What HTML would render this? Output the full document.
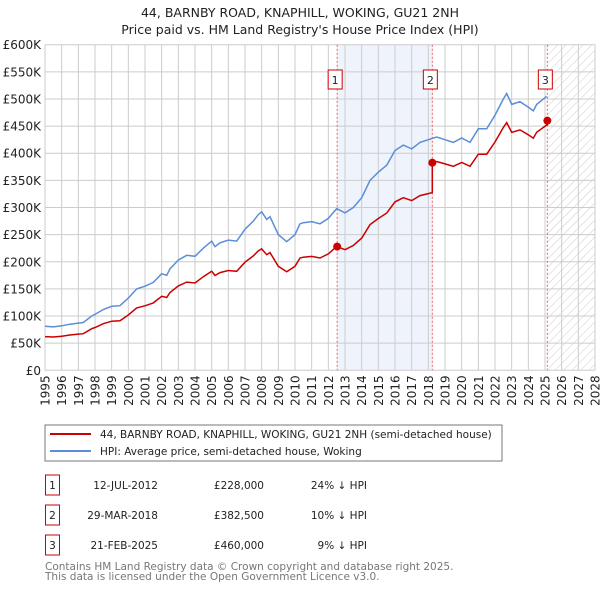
<!DOCTYPE html>
<html><head><meta charset="utf-8"><style>
body{margin:0;background:#fff;font-family:"Liberation Sans","DejaVu Sans",sans-serif;}
svg text{font-family:"DejaVu Sans","Liberation Sans",sans-serif;}
</style></head><body>
<svg id="c" width="600" height="590" xmlns="http://www.w3.org/2000/svg">
<defs><pattern id="hatch" width="6" height="6" patternUnits="userSpaceOnUse" patternTransform="rotate(45)"><line x1="0" y1="0" x2="0" y2="6" stroke="#ccc" stroke-width="1"/></pattern></defs>
<text x="300" y="17" text-anchor="middle" font-size="12.5" fill="#222">44, BARNBY ROAD, KNAPHILL, WOKING, GU21 2NH</text>
<text x="300" y="34" text-anchor="middle" font-size="12.5" fill="#222">Price paid vs. HM Land Registry's House Price Index (HPI)</text>
<g id="plot"></g>
<rect x="45" y="425" width="457" height="36" fill="#fff" stroke="#777"/>
<line x1="50" y1="434" x2="91" y2="434" stroke="#cc0000" stroke-width="2"/>
<text x="100" y="438" font-size="10.5" fill="#222">44, BARNBY ROAD, KNAPHILL, WOKING, GU21 2NH (semi-detached house)</text>
<line x1="50" y1="451" x2="91" y2="451" stroke="#5b8ed6" stroke-width="2"/>
<text x="100" y="455" font-size="10.5" fill="#222">HPI: Average price, semi-detached house, Woking</text>
<g id="tbl"></g>
<text x="45" y="570" font-size="10.5" fill="#777">Contains HM Land Registry data © Crown copyright and database right 2025.</text>
<text x="45" y="580" font-size="10.5" fill="#777">This data is licensed under the Open Government Licence v3.0.</text>
</svg>
<script>
const hpiYears=[1995,1995.5,1996,1996.5,1997,1997.3,1997.8,1998,1998.5,1999,1999.5,2000,2000.5,2001,2001.5,2002,2002.3,2002.5,2003,2003.5,2004,2004.5,2005,2005.2,2005.5,2006,2006.5,2007,2007.5,2007.8,2008,2008.3,2008.5,2009,2009.5,2010,2010.3,2010.5,2011,2011.5,2012,2012.5,2013,2013.5,2014,2014.5,2015,2015.5,2016,2016.5,2017,2017.5,2018,2018.5,2019,2019.5,2020,2020.5,2021,2021.5,2022,2022.5,2022.7,2023,2023.5,2024,2024.3,2024.5,2025.1];
const hpiValues=[81,80,82,85,87,88,100,103,112,118,119,133,150,155,162,178,175,187,203,212,210,225,238,228,235,240,238,260,275,287,292,278,283,250,237,250,270,272,274,270,280,298,290,300,318,350,365,378,405,415,408,420,425,430,425,420,428,420,445,445,470,500,510,490,495,485,478,490,505];
const saleLabels=["1","2","3"];
const saleDates=[2012.53,2018.24,2025.14];
const salePrices=[228,382.5,460];
const saleDateText=["12-JUL-2012","29-MAR-2018","21-FEB-2025"];
const salePriceText=["£228,000","£382,500","£460,000"];
const saleDiffText=["24% ↓ HPI","10% ↓ HPI","9% ↓ HPI"];
const yTicks=[0,50,100,150,200,250,300,350,400,450,500,550,600];
const yTickLabels=["£0","£50K","£100K","£150K","£200K","£250K","£300K","£350K","£400K","£450K","£500K","£550K","£600K"];
const xTicks=[1995,1996,1997,1998,1999,2000,2001,2002,2003,2004,2005,2006,2007,2008,2009,2010,2011,2012,2013,2014,2015,2016,2017,2018,2019,2020,2021,2022,2023,2024,2025,2026,2027,2028];

const NS="http://www.w3.org/2000/svg";
const X0=45,X1=595,Y0=370.3,Y1=44.7;
const xs=t=>X0+(t-1995)/(2028-1995)*(X1-X0);
const ys=v=>Y0-v/600*(Y0-Y1);
function mk(tag,attrs,parent){const e=document.createElementNS(NS,tag);for(const k in attrs)e.setAttribute(k,attrs[k]);parent.appendChild(e);return e;}
const g=document.getElementById('plot');
function hpiAt(t){for(let i=0;i<hpiYears.length-1;i++){if(t<=hpiYears[i+1]){const f=(t-hpiYears[i])/(hpiYears[i+1]-hpiYears[i]);return hpiValues[i]+f*(hpiValues[i+1]-hpiValues[i]);}}return hpiValues[hpiValues.length-1];}
// shaded region between sale 1 and 2
let r=mk('rect',{x:xs(saleDates[0]),y:Y1,width:xs(saleDates[1])-xs(saleDates[0]),height:Y0-Y1,fill:'#eef3fc'},g);


r=mk('rect',{x:xs(saleDates[2]),y:Y1,width:X1-xs(saleDates[2]),height:Y0-Y1,fill:'url(#hatch)'},g);


// grid
yTicks.forEach((v,i)=>{
 let l=mk('line',{x1:X0,x2:X1,y1:ys(v),y2:ys(v),stroke:'#ccc','stroke-width':1},g);
 
 
 let t=mk('text',{x:X0-4,y:ys(v)+4.5,'text-anchor':'end','font-size':'12',fill:'#222'},g);t.textContent=yTickLabels[i];
 
 
});
xTicks.forEach(yr=>{
 let l=mk('line',{x1:xs(yr),x2:xs(yr),y1:Y1,y2:Y0,stroke:'#ccc','stroke-width':1},g);
 
 
 let t=mk('text',{x:0,y:0,'text-anchor':'end','font-size':'12',fill:'#222',transform:`translate(${xs(yr)+4.5},${Y0+5}) rotate(-90)`},g);t.textContent=yr;
 
 
});
// sale vertical lines
saleDates.forEach(d=>{
 let l=mk('line',{x1:xs(d),x2:xs(d),y1:Y1,y2:Y0,stroke:'#f06060','stroke-width':1,'stroke-dasharray':'2,2'},g);
 
 
});
// HPI line
let p=hpiYears.map((t,i)=>(i?'L':'M')+xs(t).toFixed(1)+','+ys(hpiValues[i]).toFixed(1)).join('');
let hl=mk('path',{d:p,fill:'none',stroke:'#5b8ed6','stroke-width':1.5},g);


// price line: HPI indexed to each sale
function ratioAt(t){let k=0;for(let i=0;i<saleDates.length;i++){if(t>=saleDates[i])k=i;}return salePrices[k]/hpiAt(saleDates[k]);}
let pts=[];
const endT=saleDates[saleDates.length-1];
let times=hpiYears.filter(t=>t<endT);
saleDates.forEach(d=>times.push(d));
times.sort((a,b)=>a-b);
times.forEach(t=>{
 const idx=saleDates.indexOf(t);
 if(idx>0){pts.push([t,hpiAt(t)*salePrices[idx-1]/hpiAt(saleDates[idx-1])]);}
 pts.push([t,hpiAt(t)*ratioAt(t)]);
});
p=pts.map((q,i)=>(i?'L':'M')+xs(q[0]).toFixed(1)+','+ys(q[1]).toFixed(1)).join('');
let pl=mk('path',{d:p,fill:'none',stroke:'#cc0000','stroke-width':1.5},g);


saleDates.forEach((d,i)=>{
 let c=mk('circle',{cx:xs(d),cy:ys(salePrices[i]),r:4,fill:'#cc0000'},g);
 
 
 let b=mk('rect',{x:xs(d)-9,y:70,width:14,height:19,fill:'#fff',stroke:'#cc0000'},g);
 
 
 let t=mk('text',{x:xs(d)-2,y:84,'text-anchor':'middle','font-size':'11',fill:'#222'},g);t.textContent=saleLabels[i];
 
 
});
// table
const tb=document.getElementById('tbl');
saleLabels.forEach((s,i)=>{
 const yy=475+i*30;
 let b=mk('rect',{x:45.5,y:yy,width:14,height:20,fill:'#fff',stroke:'#cc0000'},tb);
 
 
 let t=mk('text',{x:52.5,y:yy+14,'text-anchor':'middle','font-size':'10.5',fill:'#222'},tb);t.textContent=s;
 
 
 t=mk('text',{x:158,y:yy+14,'text-anchor':'end','font-size':'10.5',fill:'#222'},tb);t.textContent=saleDateText[i];
 
 
 t=mk('text',{x:264,y:yy+14,'text-anchor':'end','font-size':'10.5',fill:'#222'},tb);t.textContent=salePriceText[i];
 
 
 t=mk('text',{x:367,y:yy+14,'text-anchor':'end','font-size':'10.5',fill:'#222'},tb);t.textContent=saleDiffText[i];
 
 
});
</script>
</body></html>
